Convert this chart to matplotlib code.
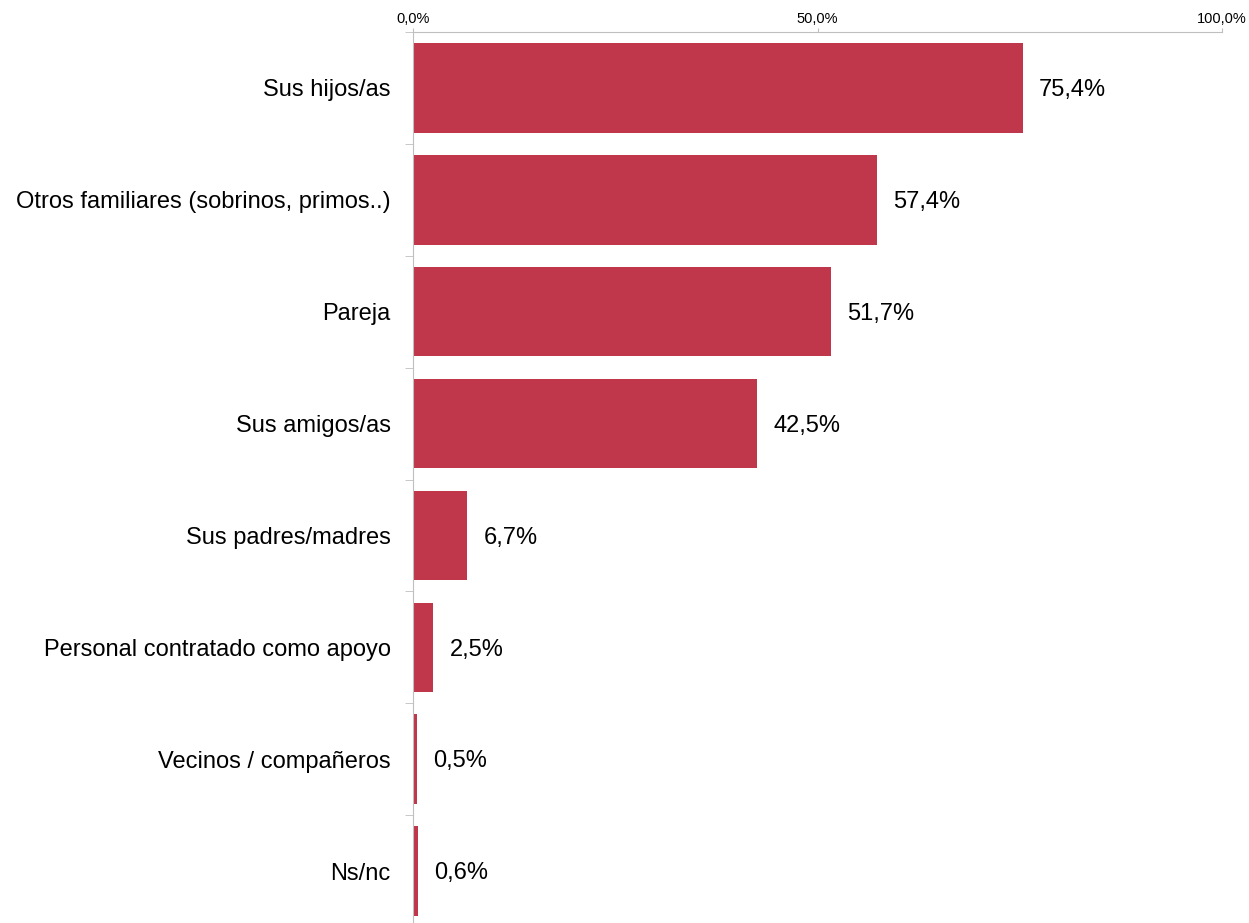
import matplotlib.pyplot as plt
from matplotlib.ticker import FuncFormatter

categorias = ["Sus hijos/as", "Otros familiares (sobrinos, primos..)", "Pareja",
              "Sus amigos/as", "Sus padres/madres", "Personal contratado como apoyo",
              "Vecinos / compañeros", "Ns/nc"]
valores = [75.4, 57.4, 51.7, 42.5, 6.7, 2.5, 0.5, 0.6]

plt.rcParams['font.family'] = ['Liberation Sans', 'DejaVu Sans']

fig = plt.figure(figsize=(12.49, 9.23), dpi=100)
ax = fig.add_axes([413 / 1249, -4 / 923, (1222 - 413) / 1249, (927 - 32) / 923])

pos = list(range(len(categorias)))
ax.barh(pos, valores, height=0.8, color='#C0364A')
ax.set_ylim(len(categorias) - 0.5, -0.5)
ax.set_xlim(0, 100)

for p, v in zip(pos, valores):
    ax.text(v + 2.0, p + 0.02, f"{v:.1f}%".replace('.', ','), va='center', ha='left', fontsize=17)

ax.xaxis.tick_top()
ax.set_xticks([0, 50, 100])
ax.xaxis.set_major_formatter(FuncFormatter(lambda x, _: f"{x:.1f}%".replace('.', ',')))
ax.tick_params(axis='x', direction='out', length=3, color='#BFBFBF', labelsize=10.5, pad=1.5)

ax.set_yticks(pos)
ax.set_yticklabels(categorias, fontsize=17)
ax.set_yticks([p + 0.5 for p in [-1] + pos], minor=True)
ax.tick_params(axis='y', which='major', length=0, pad=16)
ax.tick_params(axis='y', which='minor', direction='out', length=6, color='#BFBFBF')

for s in ['right', 'bottom']:
    ax.spines[s].set_visible(False)
for s in ['top', 'left']:
    ax.spines[s].set_color('#BFBFBF')

fig.savefig('out.png', dpi=100)
